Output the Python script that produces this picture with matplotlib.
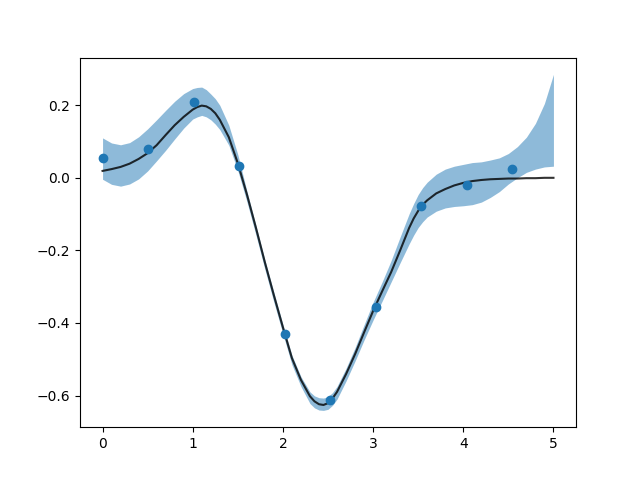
import matplotlib
matplotlib.use("Agg")
import matplotlib.pyplot as plt

# observed data points
obs_x = [0.0, 0.505, 1.01, 1.515, 2.02, 2.525, 3.03, 3.535, 4.04, 4.545]
obs_y = [0.055, 0.08, 0.21, 0.033, -0.43, -0.613, -0.355, -0.078, -0.02, 0.025]

# curve grid (x positions where the curves were read)
grid_x = [0.0, 0.1, 0.2, 0.3, 0.4, 0.5, 0.6, 0.7, 0.8, 0.9,
          1.0, 1.05, 1.1, 1.15, 1.2, 1.25, 1.3, 1.4, 1.5, 1.6, 1.7, 1.8, 1.9,
          2.0, 2.1, 2.2, 2.3, 2.35, 2.4, 2.45, 2.5, 2.55, 2.6, 2.7, 2.8, 2.9,
          3.0, 3.1, 3.2, 3.3, 3.4, 3.45, 3.5, 3.55, 3.6, 3.7, 3.8, 3.9,
          4.0, 4.1, 4.2, 4.3, 4.4, 4.5, 4.6, 4.7, 4.8, 4.9, 5.0]

mean_y = [0.019, 0.024, 0.030, 0.039, 0.052, 0.068, 0.090, 0.118, 0.145, 0.168,
          0.188, 0.195, 0.199, 0.197, 0.190, 0.178, 0.160, 0.112, 0.040, -0.045, -0.137, -0.233, -0.324,
          -0.412, -0.497, -0.557, -0.602, -0.616, -0.624, -0.626, -0.621, -0.608, -0.590, -0.541, -0.486, -0.426,
          -0.367, -0.313, -0.260, -0.200, -0.138, -0.112, -0.091, -0.074, -0.062, -0.043, -0.031, -0.021,
          -0.014, -0.009, -0.006, -0.004, -0.003, -0.002, -0.002, -0.001, -0.001, 0.0, 0.0]

upper_y = [0.110, 0.096, 0.091, 0.097, 0.113, 0.135, 0.160, 0.186, 0.211, 0.232,
           0.246, 0.249, 0.250, 0.243, 0.231, 0.218, 0.200, 0.145, 0.064, -0.036, -0.130, -0.226, -0.316,
           -0.404, -0.489, -0.548, -0.590, -0.601, -0.606, -0.607, -0.603, -0.592, -0.575, -0.525, -0.468, -0.405,
           -0.343, -0.287, -0.228, -0.163, -0.099, -0.071, -0.046, -0.027, -0.012, 0.010, 0.024, 0.032,
           0.037, 0.042, 0.044, 0.049, 0.055, 0.067, 0.086, 0.112, 0.150, 0.205, 0.285]

lower_y = [-0.004, -0.018, -0.023, -0.017, -0.003, 0.019, 0.047, 0.076, 0.107, 0.137,
           0.162, 0.168, 0.172, 0.168, 0.160, 0.148, 0.133, 0.090, 0.020, -0.065, -0.157, -0.252, -0.343,
           -0.430, -0.515, -0.575, -0.622, -0.634, -0.640, -0.641, -0.638, -0.627, -0.610, -0.560, -0.505, -0.447,
           -0.392, -0.340, -0.287, -0.234, -0.182, -0.158, -0.137, -0.121, -0.108, -0.092, -0.083, -0.079,
           -0.077, -0.074, -0.067, -0.054, -0.038, -0.017, 0.000, 0.015, 0.024, 0.030, 0.032]

fig, ax = plt.subplots(figsize=(6.4, 4.8), dpi=100)
ax.fill_between(grid_x, lower_y, upper_y, color="C0", alpha=0.5, linewidth=0)
ax.plot(grid_x, mean_y, color="k", alpha=0.8, linewidth=1.5)
ax.scatter(obs_x, obs_y, color="C0", zorder=3)
fig.savefig("out.png", dpi=100)
